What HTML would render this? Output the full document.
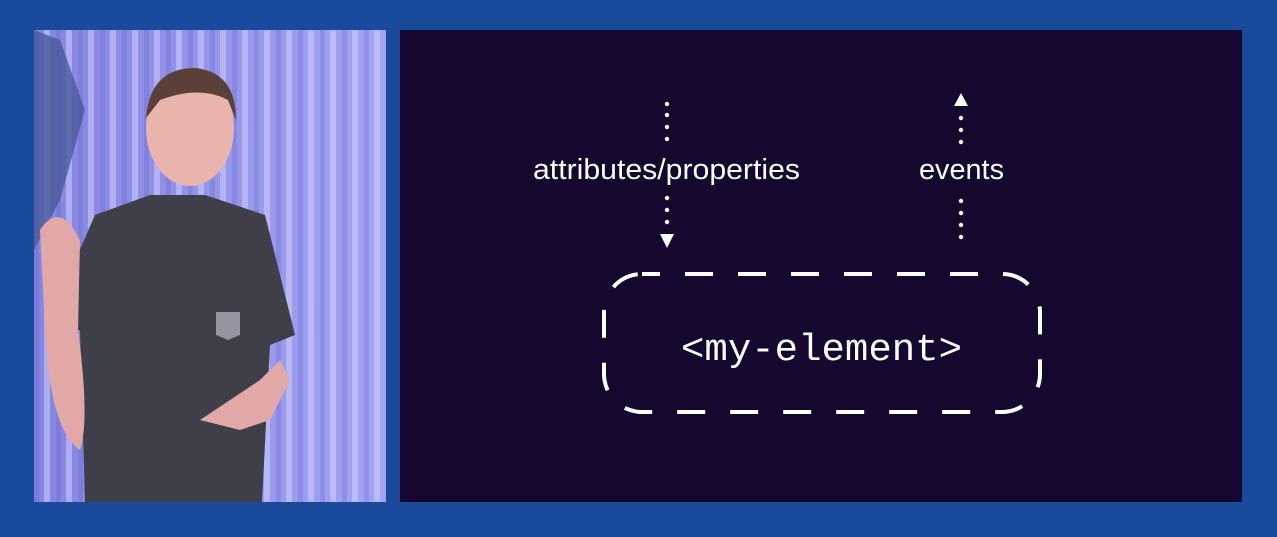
<!DOCTYPE html>
<html><head><style>
html,body{margin:0;padding:0;background:#194a9c;width:1277px;height:537px;overflow:hidden}
</style></head><body>
<svg width="1277" height="537" viewBox="0 0 1277 537" xmlns="http://www.w3.org/2000/svg">
<defs>
<linearGradient id="bg" x1="0" y1="0" x2="1" y2="0">
<stop offset="0" stop-color="#8585e2"/><stop offset="1" stop-color="#a4a4f4"/>
</linearGradient>
<pattern id="stripes" width="22" height="10" patternUnits="userSpaceOnUse">
<rect x="0" width="6" height="10" fill="#d4d4ff" opacity="0.5"/>
<rect x="12" width="5" height="10" fill="#5a5ac0" opacity="0.25"/>
</pattern>
</defs>
<rect width="1277" height="537" fill="#194a9c"/>
<rect x="34" y="30" width="352" height="472" fill="url(#bg)"/>
<rect x="34" y="30" width="352" height="472" fill="url(#stripes)"/>
<polygon points="34,30 60,40 85,110 60,200 34,250" fill="#4a5a9a" opacity="0.8"/>
<path d="M95,215 L150,195 L205,195 L265,215 L295,335 L270,345 L262,502 L85,502 L80,330 L45,330 Z" fill="#3e3f48"/>
<ellipse cx="190" cy="128" rx="44" ry="58" fill="#e9b4ad"/>
<path d="M146,118 Q150,68 195,68 Q236,72 236,120 L228,100 Q200,85 160,100 Z" fill="#5a4038"/>
<path d="M40,230 Q60,200 80,240 L78,330 Q90,420 80,450 Q50,430 45,330 Z" fill="#e2a8a8"/>
<path d="M200,420 L260,380 L280,360 L290,380 L270,420 L240,430 Z" fill="#e2a8a8"/>
<path d="M216,312 L240,312 L240,335 L228,340 L216,335 Z" fill="#bbbbc8" opacity="0.7"/>
<rect x="400" y="30" width="842" height="472" fill="#15072d"/>
<g fill="#fff">
<circle cx="667" cy="104" r="2.2"/><circle cx="667" cy="115" r="2.2"/><circle cx="667" cy="127" r="2.2"/><circle cx="667" cy="139" r="2.2"/>
<circle cx="667" cy="198" r="2.2"/><circle cx="667" cy="210" r="2.2"/><circle cx="667" cy="222" r="2.2"/>
<polygon points="660,234 674,234 667,248"/>
<polygon points="954,106 968,106 961,93"/>
<circle cx="961" cy="118" r="2.2"/><circle cx="961" cy="130" r="2.2"/><circle cx="961" cy="142" r="2.2"/>
<circle cx="961" cy="201" r="2.2"/><circle cx="961" cy="213" r="2.2"/><circle cx="961" cy="225" r="2.2"/><circle cx="961" cy="237" r="2.2"/>
</g>
<text x="533" y="179" textLength="267" lengthAdjust="spacingAndGlyphs" font-family="Liberation Sans, sans-serif" font-size="29" fill="#fff">attributes/properties</text>
<text x="919" y="179" textLength="85" lengthAdjust="spacingAndGlyphs" font-family="Liberation Sans, sans-serif" font-size="29" fill="#fff">events</text>
<rect x="604" y="274" width="436" height="138" rx="38" fill="none" stroke="#fff" stroke-width="4" stroke-dasharray="28,25" stroke-dashoffset="10"/>
<text x="681" y="360" textLength="281" lengthAdjust="spacingAndGlyphs" font-family="Liberation Mono, monospace" font-size="38" fill="#fff">&lt;my-element&gt;</text>
</svg>
</body></html>
